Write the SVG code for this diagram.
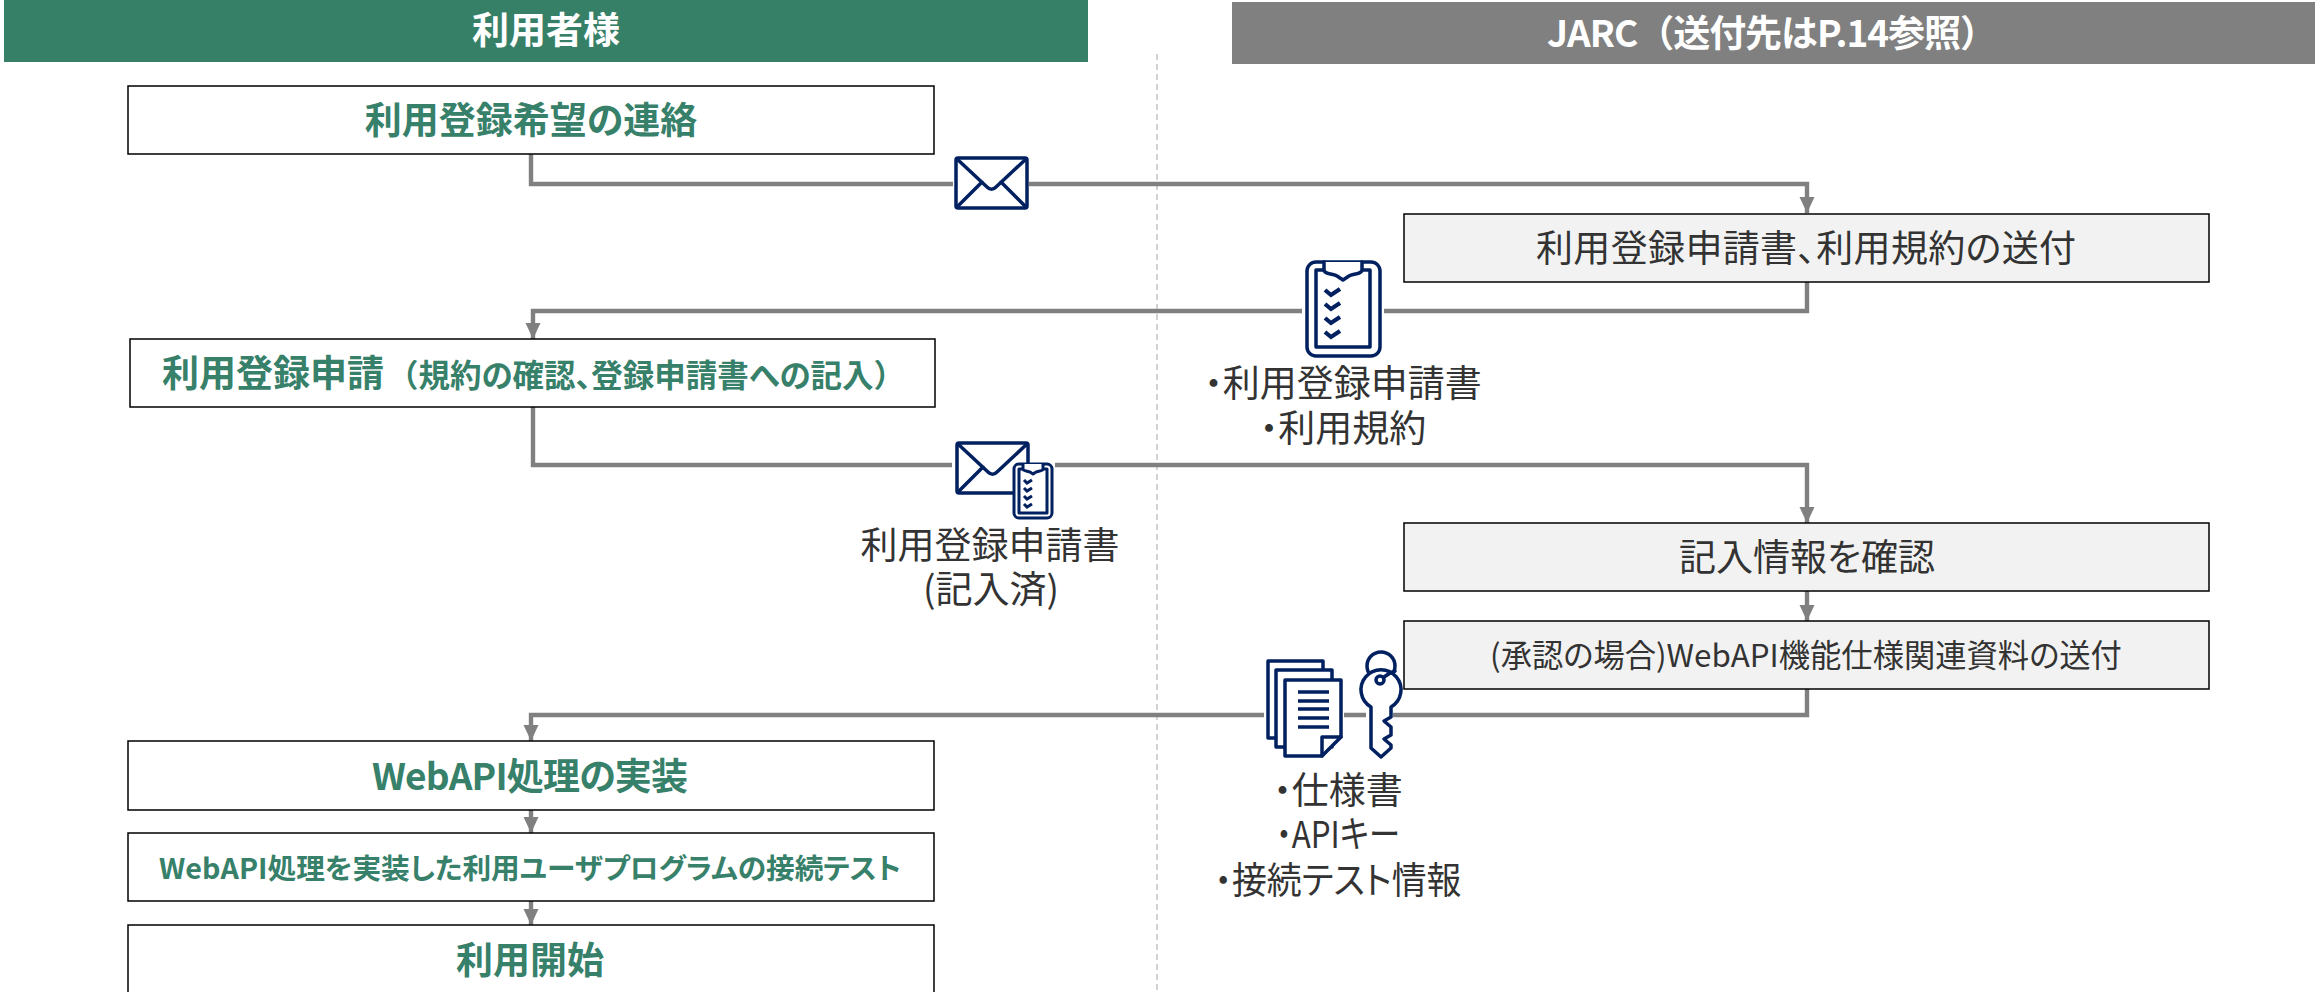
<svg xmlns="http://www.w3.org/2000/svg" width="2315" height="992" viewBox="0 0 2315 992">
<style>
text{font-family:"Noto Sans CJK JP","Noto Sans",sans-serif;text-anchor:middle;font-feature-settings:"palt"}
.hd{fill:#fff;font-size:37px;font-weight:700}
.full{font-feature-settings:normal}
.pp{font-feature-settings:"palt"}
.g{fill:#37806a;font-size:37px;font-weight:700}
.gs{fill:#37806a;font-size:31.5px;font-weight:700}
.gt{fill:#37806a;font-size:28.7px;font-weight:700}
.d{fill:#333;font-size:37px}
.ds{fill:#333;font-size:31.3px}
.box{fill:#fff;stroke:#000;stroke-width:1.5}
.gbox{fill:#f2f2f2;stroke:#000;stroke-width:1.5}
.conn{fill:none;stroke:#808080;stroke-width:4.4}
.ic{fill:#fff;stroke:#002060;stroke-width:3.5;stroke-linejoin:round;stroke-linecap:round}
.icn{fill:none;stroke:#002060;stroke-width:3.5;stroke-linejoin:round;stroke-linecap:round}
.chk{fill:none;stroke:#002060;stroke-width:4.2;stroke-linejoin:miter}
.ic2{fill:#fff;stroke:#002060;stroke-width:3;stroke-linejoin:round}
.chk2{fill:none;stroke:#002060;stroke-width:3}
</style>
<defs>
<marker id="arr" markerUnits="userSpaceOnUse" markerWidth="16" markerHeight="17" refX="16" refY="8" orient="auto"><path d="M0 0.5L16 8L0 15.5Z" fill="#808080"/></marker>
</defs>
<line x1="1157" y1="54" x2="1157" y2="992" stroke="#c4c4c4" stroke-width="1.5" stroke-dasharray="6 4"/>
<g id="header-user"><rect x="4" y="0" width="1084" height="62" fill="#378068"/><text class="hd" x="546" y="44">利用者様</text></g>
<g id="header-jarc"><rect x="1232" y="2" width="1083" height="62" fill="#808080"/><text class="hd full" x="1772" y="47" textLength="450">JARC（送付先はP.14参照）</text></g>
<g id="connectors">
<path class="conn" marker-end="url(#arr)" d="M531 154V184H1807V213"/>
<path class="conn" marker-end="url(#arr)" d="M1807 282V311H533V339"/>
<path class="conn" marker-end="url(#arr)" d="M533 407V465H1807V523"/>
<path class="conn" marker-end="url(#arr)" d="M1807 591V621"/>
<path class="conn" marker-end="url(#arr)" d="M1807 689V715H531V741"/>
<path class="conn" marker-end="url(#arr)" d="M531 810V833"/>
<path class="conn" marker-end="url(#arr)" d="M531 901V925"/>
</g>
<g id="n1"><rect class="box" x="128" y="86" width="806" height="68"/><text class="g" x="531" y="134">利用登録希望の連絡</text></g>
<g id="n2"><rect class="gbox" x="1404" y="214" width="805" height="68"/><text class="d" x="1806" y="262" textLength="540">利用登録申請書、利用規約の送付</text></g>
<g id="n3"><rect class="box" x="130" y="339" width="805" height="68"/><text style="text-anchor:start" x="162" y="387"><tspan class="g">利用登録申請</tspan><tspan class="gs full" dx="3">（</tspan><tspan class="gs pp">規約の確認、登録申請書への記入</tspan><tspan class="gs full">）</tspan></text></g>
<g id="n4"><rect class="gbox" x="1404" y="523" width="805" height="68"/><text class="d" x="1807" y="571">記入情報を確認</text></g>
<g id="n5"><rect class="gbox" x="1404" y="621" width="805" height="68"/><text class="ds" x="1806" y="667">(承認の場合)WebAPI機能仕様関連資料の送付</text></g>
<g id="n6"><rect class="box" x="128" y="741" width="806" height="69"/><text class="g" x="530" y="790" textLength="316">WebAPI処理の実装</text></g>
<g id="n7"><rect class="box" x="128" y="833" width="806" height="68"/><text class="gt" x="530" y="879">WebAPI処理を実装した利用ユーザプログラムの接続テスト</text></g>
<g id="n8"><rect class="box" x="128" y="925" width="806" height="68"/><text class="g" x="530" y="974">利用開始</text></g>
<g id="mail"><rect x="953" y="155" width="76" height="56" fill="#fff"/><rect class="ic" x="956" y="158" width="71" height="50" rx="2"/><path class="icn" d="M957 159L987 187C990 190 993 190 996 187L1026 159M982 182L957 207M1001 182L1026 207"/></g>
<g id="form"><rect x="1302" y="290" width="82" height="40" fill="#fff"/><rect class="ic" x="1307" y="262" width="73" height="94" rx="9"/><path class="ic" d="M1324 270H1316V347H1370V270H1362"/><path class="ic" d="M1324 262V270C1324 274 1334 274 1337 276L1343 280L1349 276C1352 274 1362 274 1362 270V262"/><path class="chk" d="M1325 290l6 5l9-6M1325 304l6 5l9-6M1325 318l6 5l9-6M1325 332l6 5l9-6"/><text class="d" x="1343" y="397">・利用登録申請書</text><text class="d" x="1343" y="442">・利用規約</text></g>
<g id="mail-form"><rect x="952" y="440" width="103" height="50" fill="#fff"/><rect class="ic" x="957" y="443" width="71" height="50" rx="2"/><path class="icn" d="M958 444L988 472C991 475 994 475 997 472L1027 444M983 467L958 492"/><rect class="ic2" x="1014" y="464" width="38" height="54" rx="5"/><path class="ic2" d="M1023 469H1019V513H1047V469H1043"/><path class="ic2" d="M1023 464V469C1023 471 1028 471 1030 472L1033 474L1036 472C1038 471 1043 471 1043 469V464"/><path class="chk2" d="M1024 480l3 3l5-3M1024 488l3 3l5-3M1024 496l3 3l5-3M1024 504l3 3l5-3"/><text class="d" x="990" y="559">利用登録申請書</text><text class="d" x="991" y="603">(記入済)</text></g>
<g id="docs"><rect x="1264" y="700" width="80" height="30" fill="#fff"/><path class="ic" d="M1268 661H1323V738H1268Z"/><path class="ic" d="M1276 670H1332V747H1276Z"/><path class="ic" d="M1285 680H1341V737L1322 756H1285Z"/><path class="icn" d="M1322 756V737H1341"/><path d="M1298 692H1329M1298 701H1329M1298 709H1329M1298 718H1329M1298 727H1329" fill="none" stroke="#002060" stroke-width="3.5"/><text class="d" x="1338" y="804">・仕様書</text><text class="d" x="1338" y="848" textLength="124" lengthAdjust="spacingAndGlyphs">・APIキー</text><text class="d" x="1338" y="894" textLength="247" lengthAdjust="spacingAndGlyphs">・接続テスト情報</text></g>
<g id="key"><rect x="1366" y="700" width="27" height="30" fill="#fff"/><circle class="icn" cx="1381" cy="666" r="14"/><path class="ic" d="M1371 707A20 20 0 1 1 1391 707V717L1384 721L1391 727V735L1384 739L1391 745V748L1381 757L1371 748Z"/><circle class="icn" cx="1380" cy="680" r="4"/><path class="icn" d="M1384 677C1388 674 1392 672 1395 671"/></g>
</svg>
